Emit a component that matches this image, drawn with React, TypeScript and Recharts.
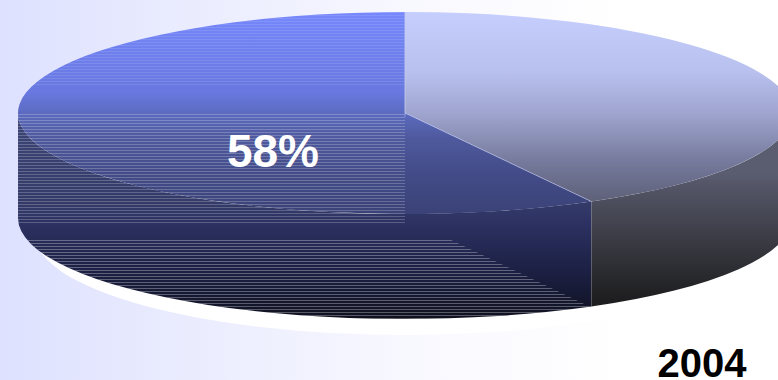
import { Pie, PieChart } from 'recharts';

const SHARES = ['a', 'b'];
const VALUES = [58, 42];
const YEAR = '2004';

const WIDTH = 778;
const HEIGHT = 380;
const PIE_X = 405;
const PIE_Y = 113;
const RADIUS = 387;
const TILT = 101 / 387; // flattening of the disc
const DEPTH = 105;
const FONT = 'Liberation Sans, Arial, sans-serif';

const data = SHARES.map((name, i) => ({ name, value: VALUES[i] }));

const rad = (deg: number) => (deg * Math.PI) / 180;

const Disc = ({ cx, cy, outerRadius, startAngle, endAngle, index }: any) => {
    const r = outerRadius;
    const ry = r * TILT;
    const at = (deg: number, dy = 0) => ({
        x: cx + r * Math.cos(rad(deg)),
        y: cy - ry * Math.sin(rad(deg)) + dy,
    });
    const a = at(startAngle);
    const b = at(endAngle);
    const large = endAngle - startAngle > 180 ? 1 : 0;
    const top = `M${cx},${cy} L${a.x},${a.y} A${r},${ry} 0 ${large} 0 ${b.x},${b.y} Z`;

    // only the front half of the rim can be seen
    const from = Math.max(startAngle, 180);
    const to = Math.min(endAngle, 360);
    const p = at(from);
    const q = at(to);
    const pd = at(from, DEPTH);
    const qd = at(to, DEPTH);
    const wall = `M${p.x},${p.y} A${r},${ry} 0 0 0 ${q.x},${q.y} L${qd.x},${qd.y} A${r},${ry} 0 0 1 ${pd.x},${pd.y} Z`;

    if (index === 0) {
        const lipY = cy + DEPTH + 16;
        const dx = 42;
        return (
            <g>
                <defs>
                    <linearGradient id="blueTop" gradientUnits="userSpaceOnUse" x1="0" y1={cy - ry} x2="0" y2={cy + ry}>
                        <stop offset="0" stopColor="#7688fb" />
                        <stop offset="0.4" stopColor="#6878e0" />
                        <stop offset="0.5" stopColor="#5c6bc0" />
                        <stop offset="0.62" stopColor="#4f5a9e" />
                        <stop offset="0.8" stopColor="#434c88" />
                        <stop offset="1" stopColor="#3a4277" />
                    </linearGradient>
                    <linearGradient id="blueWall" gradientUnits="userSpaceOnUse" x1="0" y1={cy} x2="0" y2={cy + ry + DEPTH}>
                        <stop offset="0" stopColor="#3d4677" />
                        <stop offset="0.45" stopColor="#333a68" />
                        <stop offset="0.55" stopColor="#2b3060" />
                        <stop offset="0.75" stopColor="#1d2146" />
                        <stop offset="1" stopColor="#0f1120" />
                    </linearGradient>
                    <pattern id="scan" patternUnits="userSpaceOnUse" width="4" height="3">
                        <rect width="4" height="1" fill="#fff" />
                    </pattern>
                    <clipPath id="bigSlice">
                        <path d={top} />
                        <path d={wall} />
                    </clipPath>
                </defs>
                <ellipse cx={cx} cy={lipY} rx={r * 0.956} ry={ry} fill="#fff" />
                <path d={wall} fill="url(#blueWall)" />
                <path d={top} fill="url(#blueTop)" />
                <g clipPath="url(#bigSlice)">
                    <rect x={cx - r} y={cy - ry} width={r} height={75} fill="url(#scan)" opacity={0.1} />
                    <rect x={cx - r} y={cy} width={r} height={112} fill="url(#scan)" opacity={0.22} />
                    <polygon
                        points={`${cx - r},${cy + 125} ${cx + dx},${cy + 125} ${cx + dx + 360},${cy + 125 + 173} ${cx - r},${cy + 298}`}
                        fill="url(#scan)"
                        opacity={0.3}
                    />
                </g>
            </g>
        );
    }

    return (
        <g>
            <defs>
                <linearGradient id="greyTop" gradientUnits="userSpaceOnUse" x1="0" y1={cy - ry} x2="0" y2={cy + ry}>
                    <stop offset="0" stopColor="#c6cefd" />
                    <stop offset="0.3" stopColor="#b8c0ee" />
                    <stop offset="0.5" stopColor="#9fa5cf" />
                    <stop offset="0.75" stopColor="#74789a" />
                    <stop offset="1" stopColor="#57596e" />
                </linearGradient>
                <linearGradient id="greyWall" gradientUnits="userSpaceOnUse" x1="0" y1={cy + 60} x2="0" y2={cy + ry + DEPTH - 20}>
                    <stop offset="0" stopColor="#5a5c70" />
                    <stop offset="0.5" stopColor="#3c3d46" />
                    <stop offset="1" stopColor="#1e1e20" />
                </linearGradient>
            </defs>
            <path d={wall} fill="url(#greyWall)" />
            <path d={top} fill="url(#greyTop)" />
            <path
                d={`M${cx},${cy} L${b.x},${b.y} L${b.x},${b.y + DEPTH}`}
                fill="none"
                stroke="#c8cce8"
                strokeOpacity={0.45}
                strokeWidth={1}
            />
            <line x1={a.x} y1={a.y} x2={cx} y2={cy} stroke="#c6cefd" strokeOpacity={0.5} />
        </g>
    );
};

const percentLabel = ({ index, value }: any) =>
    index === 0 ? (
        <text x={273} y={167} textAnchor="middle" fill="#fff" fontFamily={FONT} fontWeight="bold" fontSize={46}>
            {`${value}%`}
        </text>
    ) : null;

export default function App() {
    return (
        <div
            style={{
                position: 'fixed',
                left: 0,
                top: 0,
                width: WIDTH,
                height: HEIGHT,
                overflow: 'hidden',
                background: 'linear-gradient(90deg, #dee1ff 0%, #e8eafe 20%, #f8f8ff 52%, #ffffff 80%)',
            }}
        >
            <PieChart width={WIDTH} height={HEIGHT} margin={{ top: 0, right: 0, bottom: 0, left: 0 }}>
                <Pie
                    data={data}
                    dataKey="value"
                    cx={PIE_X}
                    cy={PIE_Y}
                    outerRadius={RADIUS}
                    startAngle={90}
                    endAngle={450}
                    stroke="none"
                    shape={Disc}
                    label={percentLabel}
                    labelLine={false}
                    isAnimationActive={false}
                />
                <text x={702} y={377} textAnchor="middle" fill="#000" fontFamily={FONT} fontWeight="bold" fontSize={40}>
                    {YEAR}
                </text>
            </PieChart>
        </div>
    );
}
